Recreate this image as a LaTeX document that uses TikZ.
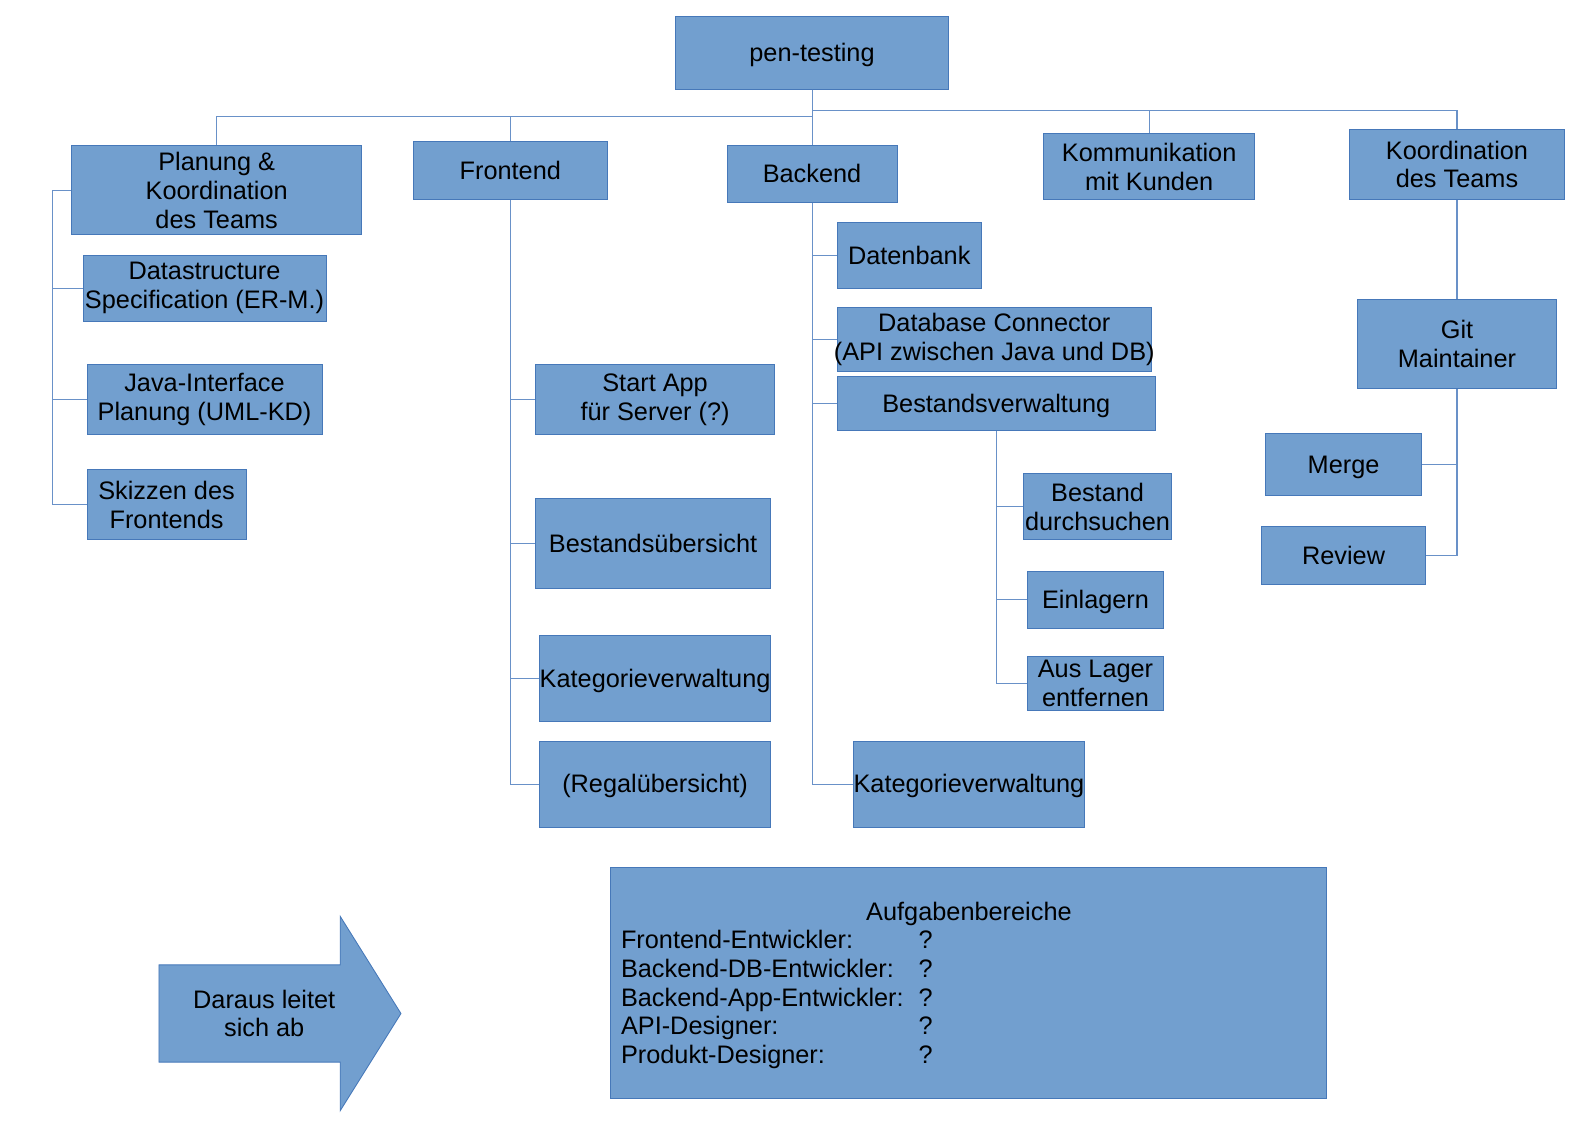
\documentclass[tikz,border=0pt]{standalone}
\usepackage{fontspec}
\setmainfont{Liberation Sans}
\usetikzlibrary{calc}

\definecolor{boxfill}{RGB}{114,159,207}
\definecolor{boxline}{RGB}{70,120,185}
\definecolor{linkcol}{RGB}{105,145,200}

\tikzset{
  box/.style={draw=boxline, fill=boxfill, line width=0.5pt, inner sep=0pt, align=center, font=\fontsize{14.4}{16.4}\selectfont},
  oneline/.style={text height=13pt, text depth=3pt},
  txt/.style={inner sep=0pt, font=\fontsize{14.4}{16.4}\selectfont},
  link/.style={draw=linkcol, line width=0.6pt},
}

\begin{document}
\begin{tikzpicture}[x=0.02025cm, y=-0.02025cm]
\useasboundingbox (0,0) rectangle (1568.4,1109.1);

% top level
\node[box, oneline, minimum width=5.47cm, minimum height=1.458cm] (pen) at (802,52) {pen-testing};
\node[box, minimum width=5.79cm, minimum height=1.78cm] (plan) at (214,188) {Planung \&\\Koordination\\des Teams};
\node[box, oneline, minimum width=3.888cm, minimum height=1.154cm] (front) at (504,168.5) {Frontend};
\node[box, oneline, minimum width=3.402cm, minimum height=1.134cm] (back) at (802,172) {Backend};
\node[box, minimum width=4.212cm, minimum height=1.316cm] (komm) at (1135,164.5) {Kommunikation\\mit Kunden};
\node[box, minimum width=4.293cm, minimum height=1.397cm] (koord) at (1439,162.5) {Koordination\\des Teams};

% Planung
\node[box, minimum width=4.86cm, minimum height=1.316cm] (datastr) at (202,284.5) {Datastructure\\Specification (ER-M.)};
\node[box, minimum width=4.698cm, minimum height=1.397cm] (java) at (202,394.5) {Java-Interface\\Planung (UML-KD)};
\node[box, minimum width=3.179cm, minimum height=1.397cm] (skiz) at (164.5,498.5) {Skizzen des\\Frontends};

% Frontend
\node[box, minimum width=4.779cm, minimum height=1.397cm] (start) at (647,394.5) {Start App\\für Server (?)};
\node[box, oneline, minimum width=4.698cm, minimum height=1.802cm] (bestue) at (645,536.5) {Bestandsübersicht};
\node[box, oneline, minimum width=4.617cm, minimum height=1.721cm] (katf) at (647,670.5) {Kategorieverwaltung};
\node[box, oneline, minimum width=4.617cm, minimum height=1.721cm] (regal) at (647,774.5) {(Regalübersicht)};

% Backend
\node[box, oneline, minimum width=2.876cm, minimum height=1.316cm] (daten) at (898,252.5) {Datenbank};
\node[box, minimum width=6.278cm, minimum height=1.276cm] (dbcon) at (982,335.5) {Database Connector\\\makebox[0pt]{(API zwischen Java und DB)}};
\node[box, oneline, minimum width=6.359cm, minimum height=1.073cm] (bestv) at (984,398.5) {Bestandsverwaltung};
\node[box, minimum width=2.957cm, minimum height=1.316cm] (bdurch) at (1084,500.5) {Bestand\\durchsuchen};
\node[box, oneline, minimum width=2.714cm, minimum height=1.154cm] (einl) at (1082,592.5) {Einlagern};
\node[box, minimum width=2.714cm, minimum height=1.094cm] (auslag) at (1082,675) {Aus Lager\\entfernen};
\node[box, oneline, minimum width=4.617cm, minimum height=1.721cm] (katb) at (957,774.5) {Kategorieverwaltung};

% Koordination
\node[box, minimum width=3.969cm, minimum height=1.78cm] (git) at (1439,340) {Git\\Maintainer};
\node[box, oneline, minimum width=3.119cm, minimum height=1.235cm] (merge) at (1327,458.5) {Merge};
\node[box, oneline, minimum width=3.281cm, minimum height=1.154cm] (review) at (1327,548.5) {Review};

% connectors
\draw[link] (pen.south) -- ++(0,21) -| (komm.north);
\draw[link] (pen.south) -- ++(0,21) -| (koord.north);
\draw[link] (pen.south) -- ++(0,27) -| (plan.north);
\draw[link] (pen.south) -- ++(0,27) -| (front.north);
\draw[link] (pen.south) -- (back.north);
\foreach \c in {datastr,java,skiz}
  \draw[link] (plan.west) -- ++(-19,0) |- (\c.west);
\foreach \c in {start,bestue,katf,regal}
  \draw[link] (front.south) |- (\c.west);
\foreach \c in {daten,dbcon,bestv,katb}
  \draw[link] (back.south) |- (\c.west);
\foreach \c in {bdurch,einl,auslag}
  \draw[link] (bestv.south) |- (\c.west);
\draw[link] (koord.south) -- (git.north);
\foreach \c in {merge,review}
  \draw[link] (git.south) |- (\c.east);

% arrow
\filldraw[fill=boxfill, draw=boxline, line width=0.5pt] (157,953) -- (336,953) -- (336,905) -- (396,1001) -- (336,1097) -- (336,1049) -- (157,1049) -- cycle;
\node[txt, align=center] (derive) at (261,1001) {Daraus leitet\\sich ab};

% Aufgabenbereiche
\node[box, minimum width=14.317cm, minimum height=4.617cm] (tasks) at (956.5,971) {};
\node[txt, anchor=base] (title) at (957,909) {Aufgabenbereiche};
\foreach \role [count=\i] in {Frontend-Entwickler:,Backend-DB-Entwickler:,Backend-App-Entwickler:,API-Designer:,Produkt-Designer:}{
  \node[txt, anchor=base west] (role\i) at (613,{937+28.4*(\i-1)}) {\role};
  \node[txt, anchor=base west] (q\i) at (907,{937+28.4*(\i-1)}) {?};
}
\end{tikzpicture}
\end{document}
